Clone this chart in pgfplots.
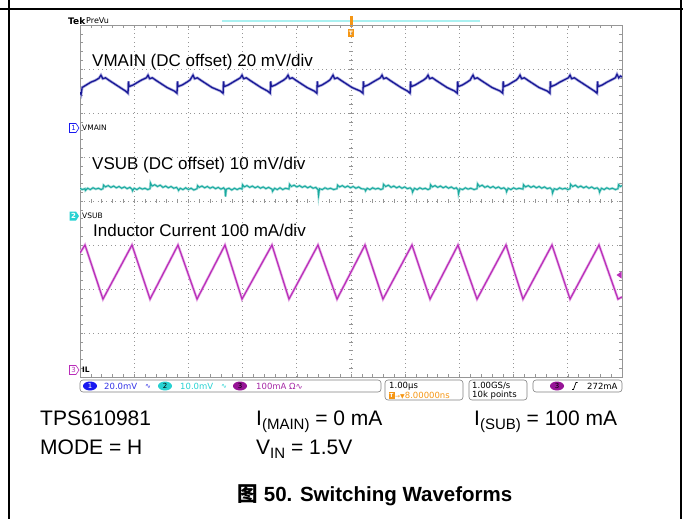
\documentclass[border=0pt]{standalone}
\usepackage{pgfplots}
\usepackage{pgfplotstable}
\pgfplotsset{compat=1.18}
\usepackage{fontspec}
\setmainfont{Liberation Sans}
\newfontfamily\dejavu{DejaVu Sans}
\newfontfamily\cjk{Noto Sans CJK SC}
\definecolor{vmain}{RGB}{25,25,150}
\definecolor{vmainhalo}{RGB}{175,175,225}
\definecolor{vsub}{RGB}{25,170,160}
\definecolor{vsubhalo}{RGB}{165,222,218}
\definecolor{il}{RGB}{185,45,185}
\definecolor{ilhalo}{RGB}{232,180,232}
\definecolor{tekorange}{RGB}{245,150,20}
\definecolor{ch1}{RGB}{25,25,240}
\definecolor{ch1t}{RGB}{50,50,230}
\definecolor{ch2}{RGB}{40,210,210}
\definecolor{ch3}{RGB}{150,20,150}
\definecolor{ch3t}{RGB}{165,40,165}
\definecolor{gridgray}{RGB}{150,150,150}

\pgfplotstableread{
x y
0 2.82
0.092 3.00
0.424 1.77
0.959 3.00
1.292 1.77
1.808 3.00
2.159 1.77
2.675 3.00
2.989 1.77
3.542 3.00
3.856 1.77
4.391 3.00
4.742 1.77
5.258 3.00
5.590 1.77
6.125 3.00
6.458 1.77
6.974 3.00
7.325 1.77
7.860 3.00
8.173 1.77
8.708 3.00
9.041 1.77
9.576 3.00
9.926 1.77
10 1.82
}\ildata

\pgfplotstableread{
x y
0 6.47
0.02 6.42
0.04 6.58
0.12 6.64
0.20 6.70
0.28 6.74
0.35 6.79
0.387 6.86
0.42 6.78
0.47 6.80
0.54 6.74
0.64 6.66
0.74 6.58
0.84 6.50
0.886 6.45
0.894 6.72
0.906 6.60
0.986 6.64
1.066 6.70
1.136 6.75
1.225 6.80
1.255 6.86
1.285 6.78
1.335 6.80
1.405 6.74
1.505 6.66
1.605 6.58
1.74 6.50
1.79 6.45
1.798 6.72
1.81 6.60
1.89 6.64
1.97 6.70
2.03 6.75
2.055 6.80
2.085 6.86
2.115 6.78
2.165 6.80
2.235 6.74
2.335 6.66
2.435 6.58
2.59 6.50
2.64 6.45
2.648 6.72
2.66 6.60
2.74 6.64
2.82 6.70
2.89 6.75
2.959 6.80
2.989 6.86
3.019 6.78
3.069 6.80
3.139 6.74
3.239 6.66
3.339 6.58
3.46 6.50
3.51 6.45
3.518 6.72
3.53 6.60
3.61 6.64
3.69 6.70
3.76 6.75
3.808 6.80
3.838 6.86
3.868 6.78
3.918 6.80
3.988 6.74
4.088 6.66
4.188 6.58
4.32 6.50
4.37 6.45
4.378 6.72
4.39 6.60
4.47 6.64
4.55 6.70
4.61 6.75
4.638 6.80
4.668 6.86
4.698 6.78
4.748 6.80
4.818 6.74
4.918 6.66
5.018 6.58
5.17 6.50
5.22 6.45
5.228 6.72
5.24 6.60
5.32 6.64
5.40 6.70
5.47 6.75
5.542 6.80
5.572 6.86
5.602 6.78
5.652 6.80
5.722 6.74
5.822 6.66
5.922 6.58
6.04 6.50
6.09 6.45
6.098 6.72
6.11 6.60
6.19 6.64
6.27 6.70
6.34 6.75
6.391 6.80
6.421 6.86
6.451 6.78
6.501 6.80
6.571 6.74
6.671 6.66
6.771 6.58
6.91 6.50
6.96 6.45
6.968 6.72
6.98 6.60
7.06 6.64
7.14 6.70
7.20 6.75
7.221 6.80
7.251 6.86
7.281 6.78
7.331 6.80
7.401 6.74
7.501 6.66
7.601 6.58
7.75 6.50
7.80 6.45
7.808 6.72
7.82 6.60
7.90 6.64
7.98 6.70
8.05 6.75
8.088 6.80
8.118 6.86
8.148 6.78
8.198 6.80
8.268 6.74
8.368 6.66
8.468 6.58
8.62 6.50
8.67 6.45
8.678 6.72
8.69 6.60
8.77 6.64
8.85 6.70
8.93 6.75
9.011 6.80
9.041 6.86
9.071 6.78
9.121 6.80
9.191 6.74
9.291 6.66
9.391 6.58
9.49 6.50
9.54 6.45
9.548 6.72
9.56 6.60
9.64 6.64
9.72 6.70
9.80 6.75
9.878 6.80
9.908 6.88
9.94 6.80
9.97 6.84
10 6.82
}\vmaindata

\pgfplotstableread{
x y
0.000 4.29
0.040 4.26
0.092 4.28
0.100 4.24
0.140 4.29
0.190 4.26
0.240 4.30
0.290 4.27
0.340 4.29
0.390 4.26
0.424 4.28
0.434 4.36
0.470 4.32
0.520 4.35
0.570 4.31
0.620 4.34
0.670 4.30
0.720 4.33
0.770 4.29
0.820 4.32
0.870 4.28
0.920 4.31
0.959 4.27
0.969 4.23
1.000 4.29
1.050 4.26
1.100 4.30
1.150 4.27
1.200 4.29
1.250 4.26
1.292 4.28
1.300 4.41
1.330 4.34
1.380 4.37
1.430 4.33
1.480 4.36
1.530 4.31
1.580 4.34
1.630 4.30
1.680 4.33
1.730 4.29
1.780 4.31
1.808 4.27
1.818 4.24
1.850 4.29
1.900 4.26
1.950 4.30
2.000 4.26
2.050 4.29
2.100 4.25
2.159 4.28
2.169 4.35
2.200 4.31
2.250 4.34
2.300 4.30
2.350 4.33
2.400 4.29
2.450 4.32
2.500 4.28
2.550 4.31
2.600 4.27
2.650 4.30
2.675 4.26
2.685 4.10
2.700 4.27
2.750 4.29
2.800 4.25
2.850 4.29
2.900 4.26
2.950 4.29
2.989 4.27
2.999 4.37
3.030 4.32
3.080 4.35
3.130 4.31
3.180 4.34
3.230 4.30
3.280 4.33
3.330 4.29
3.380 4.32
3.430 4.28
3.480 4.31
3.542 4.27
3.552 4.22
3.590 4.29
3.640 4.26
3.690 4.30
3.740 4.26
3.790 4.29
3.856 4.27
3.866 4.38
3.900 4.33
3.950 4.36
4.000 4.32
4.050 4.35
4.100 4.31
4.150 4.34
4.200 4.30
4.250 4.33
4.300 4.29
4.350 4.31
4.391 4.26
4.401 4.12
4.420 4.28
4.470 4.26
4.520 4.30
4.570 4.27
4.620 4.29
4.680 4.26
4.742 4.28
4.752 4.36
4.790 4.32
4.840 4.35
4.890 4.31
4.940 4.34
4.990 4.30
5.040 4.33
5.090 4.29
5.140 4.32
5.190 4.28
5.258 4.27
5.268 4.23
5.300 4.29
5.350 4.26
5.400 4.30
5.450 4.27
5.500 4.29
5.550 4.26
5.590 4.28
5.600 4.38
5.640 4.33
5.690 4.36
5.740 4.31
5.790 4.34
5.840 4.30
5.890 4.33
5.940 4.29
5.990 4.32
6.040 4.28
6.090 4.30
6.125 4.26
6.135 4.20
6.170 4.29
6.220 4.26
6.270 4.30
6.320 4.27
6.370 4.29
6.420 4.26
6.458 4.28
6.468 4.37
6.500 4.32
6.550 4.35
6.600 4.31
6.650 4.34
6.700 4.30
6.750 4.33
6.800 4.29
6.850 4.32
6.900 4.28
6.940 4.30
6.974 4.26
6.984 4.16
7.010 4.28
7.060 4.26
7.110 4.30
7.160 4.27
7.210 4.29
7.270 4.26
7.325 4.28
7.335 4.39
7.370 4.33
7.420 4.36
7.470 4.31
7.520 4.34
7.570 4.30
7.620 4.33
7.670 4.29
7.720 4.32
7.770 4.28
7.820 4.30
7.860 4.26
7.870 4.21
7.900 4.29
7.950 4.26
8.000 4.30
8.050 4.27
8.100 4.29
8.173 4.27
8.183 4.37
8.220 4.32
8.270 4.35
8.320 4.31
8.370 4.34
8.420 4.30
8.470 4.33
8.520 4.29
8.570 4.32
8.620 4.28
8.670 4.30
8.708 4.26
8.718 4.18
8.750 4.28
8.800 4.26
8.850 4.30
8.900 4.27
8.950 4.29
9.000 4.26
9.041 4.28
9.051 4.38
9.090 4.33
9.140 4.36
9.190 4.31
9.240 4.34
9.290 4.30
9.340 4.33
9.390 4.29
9.440 4.32
9.490 4.28
9.540 4.30
9.576 4.26
9.586 4.20
9.620 4.29
9.670 4.26
9.720 4.30
9.770 4.27
9.820 4.29
9.880 4.26
9.926 4.28
9.936 4.37
9.970 4.33
10.000 4.35
}\vsubdata

\begin{document}
\begin{tikzpicture}[x=1pt,y=1pt]
\useasboundingbox (0,0) rectangle (683,-519);
% outer frame
\draw[line width=1.3pt] (0,-9) -- (683,-9);
\draw[line width=1.3pt] (9,0) -- (9,-519);
\draw[line width=1.3pt] (681,0) -- (681,-519);

% centre-line ticks of the graticule
\foreach \i in {0,...,40} \draw[gridgray, line width=0.5pt] (349,{-25-\i*8.8}) -- (353,{-25-\i*8.8});
\foreach \i in {0,...,50} \draw[gridgray, line width=0.5pt] ({80+\i*10.84},-199) -- ({80+\i*10.84},-203);

% top indicators
\node[anchor=west, inner sep=0, font=\dejavu\bfseries\fontsize{9}{9}\selectfont] at (68,-21) {Tek};
\node[anchor=west, inner sep=0, font=\dejavu\fontsize{8}{8}\selectfont] at (86,-21) {PreVu};
\draw[color={rgb,255:red,170;green,240;blue,240}, line width=2pt] (222,-21) -- (480,-21);
\fill[tekorange] (349.5,-16) rectangle (352.5,-27);
\fill[tekorange] (348,-29) rectangle (354,-37);
\node[white, inner sep=0, font=\dejavu\bfseries\fontsize{6}{6}\selectfont] at (351,-33) {T};

\begin{axis}[at={(80pt,-377pt)}, anchor=south west, width=542pt, height=352pt,
  scale only axis, xmin=0, xmax=10, ymin=0, ymax=8,
  xtick={0,...,10}, ytick={0,...,8}, xticklabels={}, yticklabels={},
  minor x tick num=4, minor y tick num=4, tick align=inside, tick pos=both,
  major tick length=3pt, minor tick length=3pt,
  grid=major, major grid style={gridgray, line width=0.7pt, dash pattern=on 0.8pt off 3.6pt},
  axis line style={gridgray, line width=0.9pt}, tick style={gridgray, line width=0.5pt},
  clip=true]
\addplot[vmainhalo, line width=2.8pt, no markers] table {\vmaindata};
\addplot[vmain, line width=1.3pt, no markers] table {\vmaindata};
\addplot[vsubhalo, line width=2.4pt, no markers] table {\vsubdata};
\addplot[vsub, line width=1.0pt, no markers] table {\vsubdata};
\addplot[ilhalo, line width=2.6pt, no markers] table {\ildata};
\addplot[il, line width=1.2pt, no markers] table {\ildata};
\end{axis}

% trace labels
\node[anchor=base west, inner sep=0, font=\fontsize{17}{17}\selectfont] at (92,-66.5) {VMAIN (DC offset) 20 mV/div};
\node[anchor=base west, inner sep=0, font=\fontsize{17}{17}\selectfont] at (92,-169.3) {VSUB (DC offset) 10 mV/div};
\node[anchor=base west, inner sep=0, font=\fontsize{17}{17}\selectfont] at (93,-236.7) {Inductor Current 100 mA/div};

% channel markers
\draw[ch1, line width=0.6pt, fill=white] (69.5,-123.5) -- (76,-123.5) -- (79,-128) -- (76,-132.5) -- (69.5,-132.5) -- cycle;
\node[ch1, inner sep=0, font=\dejavu\fontsize{7}{7}\selectfont] at (73.5,-128) {1};
\node[anchor=west, inner sep=0, font=\dejavu\fontsize{7.5}{7.5}\selectfont] at (82,-128) {VMAIN};
\fill[ch2] (69.5,-211.5) -- (76,-211.5) -- (79,-216) -- (76,-220.5) -- (69.5,-220.5) -- cycle;
\node[white, inner sep=0, font=\dejavu\bfseries\fontsize{7}{7}\selectfont] at (73.5,-216) {2};
\node[anchor=west, inner sep=0, font=\dejavu\fontsize{7.5}{7.5}\selectfont] at (82,-216) {VSUB};
\draw[il, line width=0.6pt, fill=white] (69.5,-365.5) -- (76,-365.5) -- (79,-370) -- (76,-374.5) -- (69.5,-374.5) -- cycle;
\node[il, inner sep=0, font=\dejavu\fontsize{7}{7}\selectfont] at (73.5,-370) {3};
\node[anchor=west, inner sep=0, font=\dejavu\bfseries\fontsize{7.5}{7.5}\selectfont] at (82,-370) {IL};
% trigger level arrow
\fill[il] (616.5,-275) -- (621.5,-271.5) -- (621.5,-278.5) -- cycle;

% readout boxes
\draw[gray, line width=0.6pt, rounded corners=3pt] (80,-380) rectangle (381,-392);
\fill[ch1] (90,-386) ellipse (7 and 4.5);
\node[white, inner sep=0, font=\dejavu\fontsize{7}{7}\selectfont] at (90,-386) {1};
\node[anchor=west, inner sep=0, ch1t, font=\dejavu\fontsize{8.5}{8.5}\selectfont] at (104,-386) {20.0mV};
\node[anchor=west, inner sep=0, ch1t, font=\dejavu\fontsize{7}{7}\selectfont] at (145,-386) {∿};
\fill[ch2] (165,-386) ellipse (7 and 4.5);
\node[black, inner sep=0, font=\dejavu\fontsize{7}{7}\selectfont] at (165,-386) {2};
\node[anchor=west, inner sep=0, ch2, font=\dejavu\fontsize{8.5}{8.5}\selectfont] at (180,-386) {10.0mV};
\node[anchor=west, inner sep=0, ch2, font=\dejavu\fontsize{7}{7}\selectfont] at (221,-386) {∿};
\fill[ch3] (240,-386) ellipse (7 and 4.5);
\node[black, inner sep=0, font=\dejavu\fontsize{7}{7}\selectfont] at (240,-386) {3};
\node[anchor=west, inner sep=0, ch3t, font=\dejavu\fontsize{8.5}{8.5}\selectfont] at (256,-386) {100mA Ω∿};

\draw[gray, line width=0.6pt, rounded corners=3pt] (385,-380) rectangle (463,-400);
\node[anchor=west, inner sep=0, font=\dejavu\fontsize{8.5}{8.5}\selectfont] at (389,-386) {1.00µs};
\fill[tekorange] (388.5,-391.5) rectangle (394.5,-399);
\node[white, inner sep=0, font=\dejavu\bfseries\fontsize{5.5}{5.5}\selectfont] at (391.5,-395.3) {T};
\node[anchor=west, inner sep=0, tekorange, font=\dejavu\fontsize{8.5}{8.5}\selectfont] at (395,-395.3) {\fontsize{6}{6}\selectfont→▼\fontsize{8.5}{8.5}\selectfont8.00000ns};

\draw[gray, line width=0.6pt, rounded corners=3pt] (469,-380) rectangle (527,-400);
\node[anchor=west, inner sep=0, font=\dejavu\fontsize{8.5}{8.5}\selectfont] at (472,-386) {1.00GS/s};
\node[anchor=west, inner sep=0, font=\dejavu\fontsize{8.5}{8.5}\selectfont] at (472,-395.3) {10k points};

\draw[gray, line width=0.6pt, rounded corners=3pt] (533,-380) rectangle (622,-392);
\fill[ch3] (557,-386) ellipse (7 and 4.5);
\node[black, inner sep=0, font=\dejavu\fontsize{7}{7}\selectfont] at (557,-386) {3};
\draw[black, line width=0.7pt] (572,-389.5) -- (573.5,-389.5) -- (576,-382.5) -- (577.5,-382.5);
\node[anchor=west, inner sep=0, font=\dejavu\fontsize{8.5}{8.5}\selectfont] at (587,-386) {272mA};

% conditions
\node[anchor=base west, inner sep=0, font=\fontsize{21}{21}\selectfont] at (40,-425) {TPS610981};
\node[anchor=base west, inner sep=0, font=\fontsize{21}{21}\selectfont] at (40,-454) {MODE = H};
\node[anchor=base west, inner sep=0, font=\fontsize{21}{21}\selectfont] at (256,-425) {I\raisebox{-4pt}{\fontsize{15}{15}\selectfont(MAIN)} = 0 mA};
\node[anchor=base west, inner sep=0, font=\fontsize{21}{21}\selectfont] at (256,-454) {V\raisebox{-4pt}{\fontsize{15}{15}\selectfont IN} = 1.5V};
\node[anchor=base west, inner sep=0, font=\fontsize{21}{21}\selectfont] at (474,-425) {I\raisebox{-4pt}{\fontsize{15}{15}\selectfont(SUB)} = 100 mA};

% caption
\node[anchor=base, inner sep=0, font=\bfseries\fontsize{20.5}{20.5}\selectfont] at (375,-501) {{\cjk\bfseries 图} 50. Switching Waveforms};
\end{tikzpicture}
\end{document}
